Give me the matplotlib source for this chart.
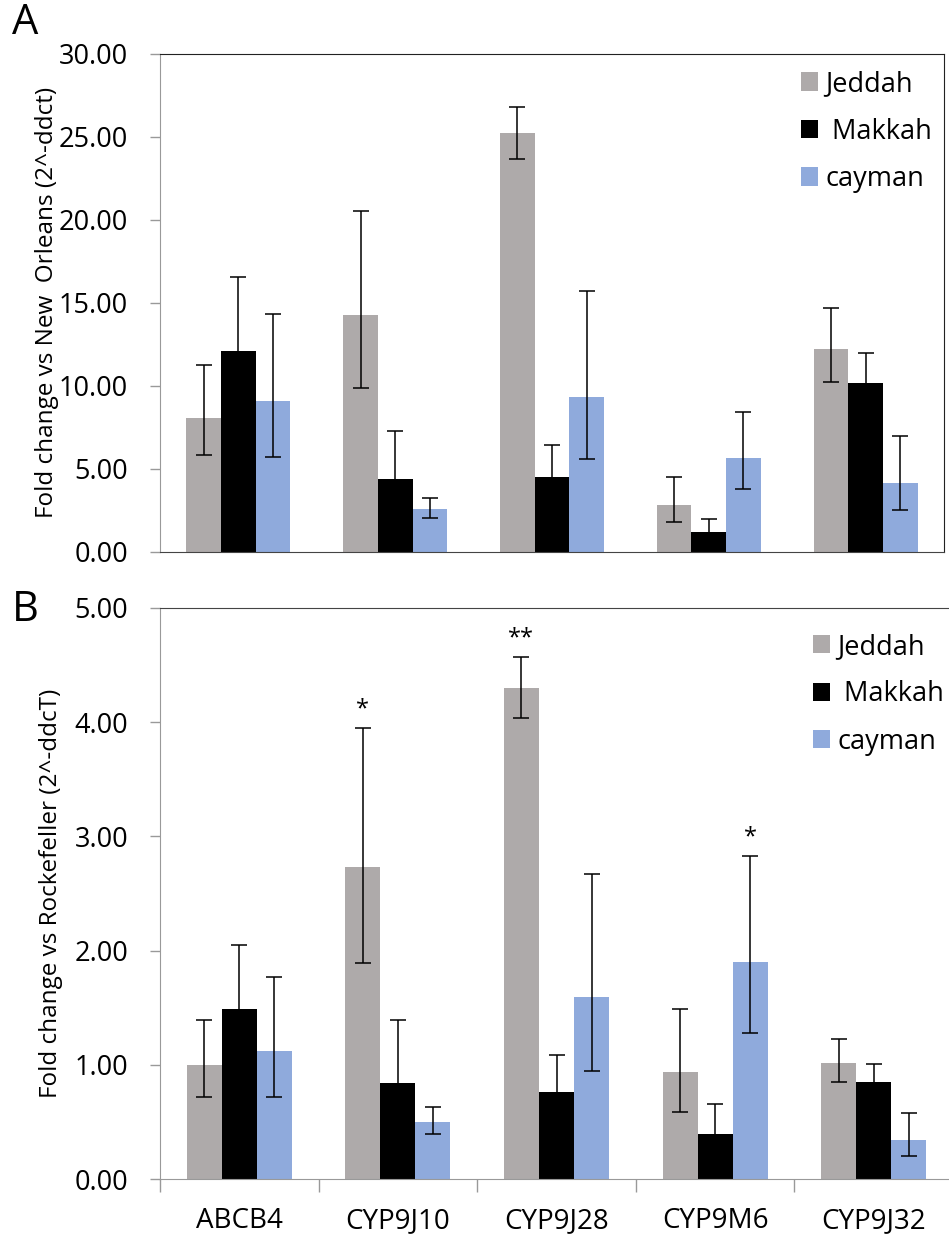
import numpy as np
import matplotlib
matplotlib.use("Agg")
import matplotlib.pyplot as plt

plt.rcParams['font.family'] = ['Open Sans', 'DejaVu Sans']

genes = ["ABCB4", "CYP9J10", "CYP9J28", "CYP9M6", "CYP9J32"]
series = ["Jeddah", " Makkah", "cayman"]
colors = ["#AEAAAA", "#000000", "#8FAADC"]

# panel A: fold change vs New Orleans
a_val = [[8.08, 14.25, 25.22, 2.81, 12.24],
         [12.08, 4.36, 4.52, 1.20, 10.15],
         [9.07, 2.59, 9.31, 5.67, 4.12]]
a_hi = [[11.27, 20.56, 26.80, 4.50, 14.69],
        [16.58, 7.28, 6.43, 1.95, 12.00],
        [14.31, 3.26, 15.70, 8.42, 6.99]]
a_lo = [[5.81, 9.89, 23.65, 1.79, 10.21],
        [7.58, 1.44, 2.61, 0.45, 8.30],
        [5.73, 2.03, 5.57, 3.80, 2.49]]

# panel B: fold change vs Rockefeller
b_val = [[1.00, 2.73, 4.30, 0.94, 1.02],
         [1.49, 0.84, 0.76, 0.39, 0.85],
         [1.12, 0.50, 1.59, 1.90, 0.34]]
b_hi = [[1.39, 3.95, 4.57, 1.49, 1.23],
        [2.05, 1.39, 1.09, 0.66, 1.01],
        [1.77, 0.63, 2.67, 2.83, 0.58]]
b_lo = [[0.715, 1.89, 4.04, 0.59, 0.85],
        [0.93, 0.29, 0.43, 0.12, 0.69],
        [0.715, 0.39, 0.95, 1.28, 0.20]]
# significance marks: (series index, gene index, text)
b_sig = [(0, 1, "*"), (0, 2, "**"), (2, 3, "*")]

W, H = 949, 1236
fig = plt.figure(figsize=(W / 100, H / 100), dpi=100)
axA = fig.add_axes([160 / W, 1 - 551.7 / H, 784 / W, 497.7 / H])
axB = fig.add_axes([160 / W, 1 - 1179 / H, 793 / W, 571 / H])

x = np.arange(len(genes))
bw = 0.221


def draw(ax, vals, hi, lo):
    for i in range(3):
        v = np.array(vals[i]); h = np.array(hi[i]); l = np.array(lo[i])
        ax.bar(x + (i - 1) * bw, v, bw, color=colors[i], label=series[i],
               zorder=2)
        ax.errorbar(x + (i - 1) * bw, v, yerr=[v - l, h - v], fmt="none",
                    ecolor="black", elinewidth=1.1, capsize=6, capthick=1.1,
                    zorder=3)
    ax.set_xlim(-0.5, len(genes) - 0.5)
    ax.tick_params(axis="y", labelsize=19.5, length=7, width=1,
                   color="#999999", pad=16)


draw(axA, a_val, a_hi, a_lo)
axA.set_ylim(0, 30)
axA.set_yticks(np.arange(0, 31, 5))
axA.set_yticklabels([f"{t:.2f}" for t in np.arange(0, 31, 5)])
axA.set_xticks([])
axA.set_ylabel("Fold change vs New  Orleans (2^-ddct)", fontsize=17.5, labelpad=0)
for s in ["top", "right"]:
    axA.spines[s].set_color("#222222")
axA.spines["left"].set_color("#999999")
axA.spines["bottom"].set_color("#444444")
axA.legend(loc="upper left", bbox_to_anchor=(0.8, 0.995), frameon=False,
           fontsize=19.5, handlelength=0.65, handleheight=0.65, handletextpad=0.25,
           labelspacing=0.72, borderpad=0)

draw(axB, b_val, b_hi, b_lo)
axB.set_ylim(0, 5)
axB.set_yticks(np.arange(0, 5.1, 1))
axB.set_yticklabels([f"{t:.2f}" for t in np.arange(0, 5.1, 1)])
axB.set_xticks(x)
axB.set_xticklabels(genes, fontsize=20)
axB.set_xticks(np.arange(len(genes) + 1) - 0.5, minor=True)
axB.tick_params(axis="x", which="major", length=0, pad=20)
axB.tick_params(axis="x", which="minor", length=9, width=1, color="#999999")
axB.set_ylabel("Fold change vs Rockefeller (2^-ddcT)", fontsize=17.5, labelpad=8)
axB.spines["right"].set_visible(False)
axB.spines["top"].set_color("#444444")
axB.spines["left"].set_color("#999999")
axB.spines["bottom"].set_color("#999999")
for i, g, t in b_sig:
    axB.text(x[g] + (i - 1) * bw, b_hi[i][g] + 0.06, t, ha="center",
             va="bottom", fontsize=17)
axB.legend(loc="upper left", bbox_to_anchor=(0.806, 0.98), frameon=False,
           fontsize=19.5, handlelength=0.65, handleheight=0.65, handletextpad=0.25,
           labelspacing=0.72, borderpad=0)

fig.text(25 / W, 1 - 23 / H, "A", fontsize=30, ha="center", va="center")
fig.text(25 / W, 1 - 610 / H, "B", fontsize=30, ha="center", va="center")

fig.savefig("out.png", dpi=100)
